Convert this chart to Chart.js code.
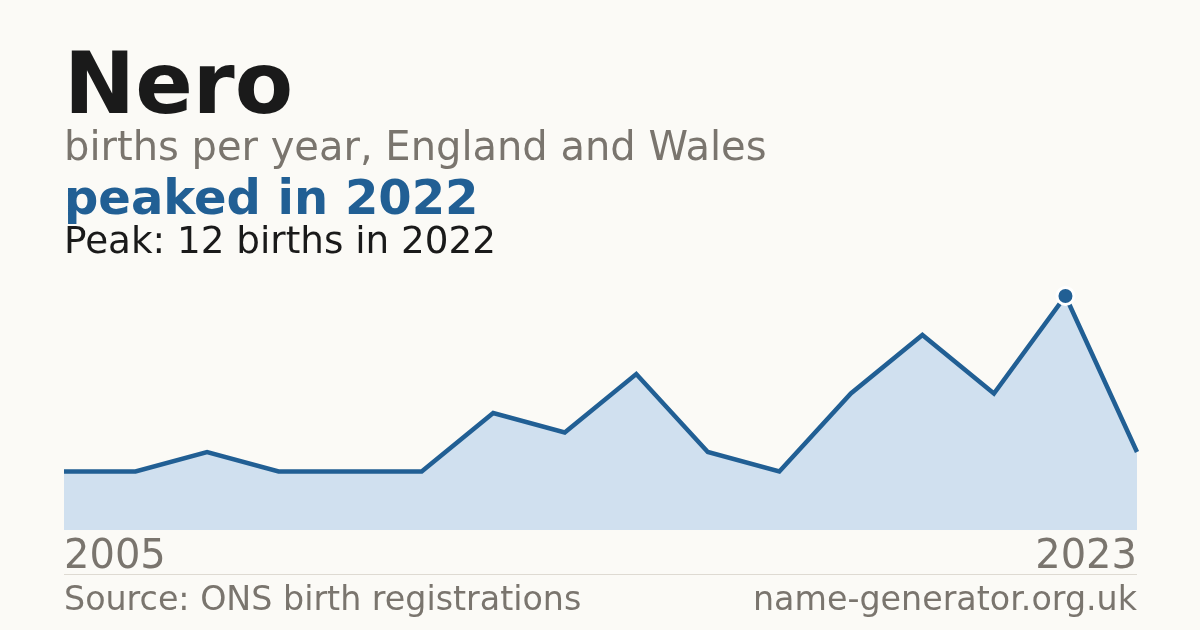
<!DOCTYPE html>
<html>
<head>
<meta charset="utf-8">
<script src="https://cdn.jsdelivr.net/npm/chart.js@4"></script>
<style>
  html, body { margin:0; padding:0; background:#fbfaf6; width:1200px; height:630px; overflow:hidden; }
  body { position:relative; font-family:"DejaVu Sans", sans-serif; }
  .t { position:absolute; left:64px; line-height:1; white-space:nowrap; }
  #title { top:41px; font-size:85px; font-weight:bold; color:#1a1a1a; }
  #sub { top:126px; font-size:40px; color:#7a756e; }
  #hl { top:173px; font-size:48px; font-weight:bold; color:#215f94; }
  #peak { top:221.7px; font-size:37.3px; color:#1a1a1a; }
  #rule { position:absolute; left:64px; width:1073px; top:574px; height:1px; background:#dedad2; }
  #src { top:581.8px; font-size:33.3px; color:#7a756e; }
  #site { top:581.8px; left:auto; right:63px; font-size:33.3px; color:#7a756e; }
  canvas { position:absolute; left:0; top:0; }
</style>
</head>
<body>
<canvas id="c" width="1200" height="630"></canvas>
<div class="t" id="title">Nero</div>
<div class="t" id="sub">births per year, England and Wales</div>
<div class="t" id="hl">peaked in 2022</div>
<div class="t" id="peak">Peak: 12 births in 2022</div>
<div id="rule"></div>
<div class="t" id="src">Source: ONS birth registrations</div>
<div class="t" id="site">name-generator.org.uk</div>
<script>
const years = [2005, 2006, 2007, 2008, 2009, 2010, 2012, 2013, 2014, 2015, 2016, 2018, 2019, 2020, 2022, 2023];
const births = [3, 3, 4, 3, 3, 3, 6, 5, 8, 4, 3, 7, 10, 7, 12, 4];
const tickLabels = ["2005", "2023"];

const peakIndex = births.indexOf(Math.max(...births));
const blue = "#215f94";

new Chart(document.getElementById("c"), {
  type: "line",
  data: {
    labels: years.map(String),
    datasets: [{
      data: births,
      borderColor: blue,
      borderWidth: 4.5,
      backgroundColor: "#d0e0ef",
      fill: "origin",
      tension: 0,
      clip: false,
      pointRadius: births.map((v, i) => i === peakIndex ? 8.5 : 0),
      pointBackgroundColor: blue,
      pointBorderColor: "#ffffff",
      pointBorderWidth: 3,
      pointHoverRadius: 0
    }]
  },
  options: {
    responsive: false,
    animation: false,
    devicePixelRatio: 1,
    layout: { padding: { left: 64, right: 63, top: 296, bottom: 44 } },
    plugins: { legend: { display: false }, tooltip: { enabled: false } },
    scales: {
      x: {
        offset: false,
        grid: { display: false, drawTicks: false },
        border: { display: false },
        ticks: {
          autoSkip: false,
          maxRotation: 0,
          minRotation: 0,
          align: "inner",
          padding: 8,
          color: "#7a756e",
          font: { family: "DejaVu Sans", size: 40, lineHeight: 1 },
          callback: function (v, i, ticks) {
            const y = this.getLabelForValue(v);
            return tickLabels.includes(y) ? y : "";
          }
        }
      },
      y: { display: false, min: 0, max: 12 }
    }
  }
});
</script>
</body>
</html>
